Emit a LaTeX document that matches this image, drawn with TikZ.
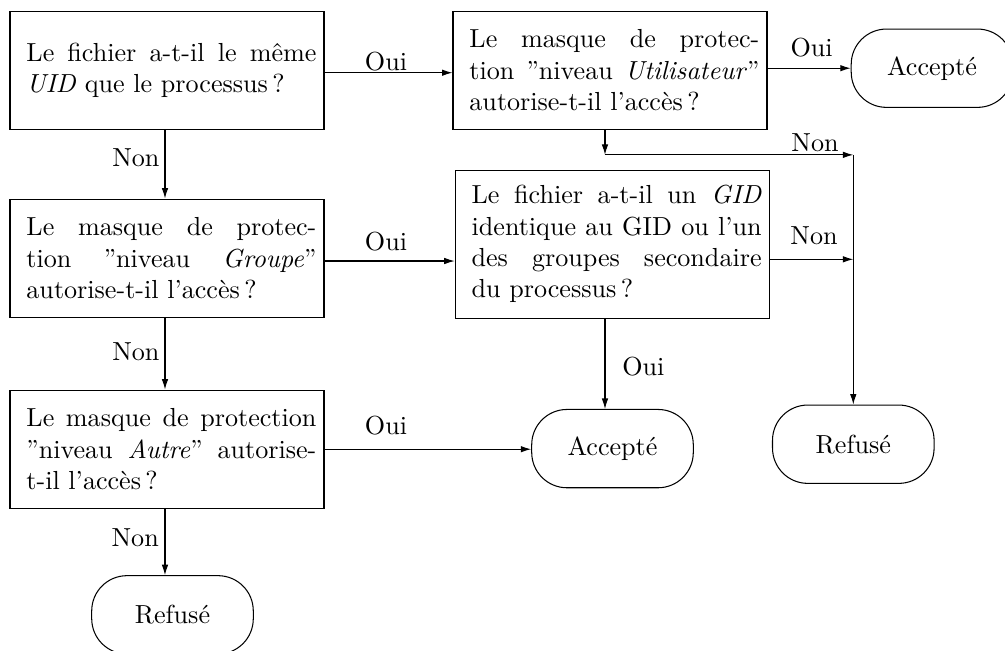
\documentclass[tikz,border=0pt]{standalone}
\usetikzlibrary{arrows.meta}
\begin{document}
\begin{tikzpicture}[x=0.3831pt, y=-0.3831pt,
  qbox/.style={draw, minimum width=120.3pt, minimum height=45.3pt, inner xsep=0pt, inner ysep=3pt},
  term/.style={draw, rounded corners=13.5pt, minimum width=61.9pt, minimum height=30pt, inner sep=0pt},
  arr/.style={-{Latex[length=4pt,width=2.5pt]}},
  lbl/.style={inner sep=0pt}]
\useasboundingbox (0,0) rectangle (1005,650);
\newcommand{\qtext}[1]{\hspace{3.4pt}\parbox[c]{111.1pt}{#1}}
% question boxes
\node[qbox] (A) at (167,70.2) {\qtext{Le fichier a-t-il le même\linebreak \textit{UID} que le processus\,?}};
\node[qbox] (B) at (610,70.2) {\qtext{Le masque de protec-\linebreak tion ”niveau \textit{Utilisateur}”\linebreak autorise-t-il l’accès\,?}};
\node[qbox] (C) at (167,258.2) {\qtext{Le masque de protec-\linebreak tion ”niveau \textit{Groupe}”\linebreak autorise-t-il l’accès\,?}};
\node[qbox, minimum height=56.5pt] (D) at (612.2,244.3) {\qtext{Le fichier a-t-il un \textit{GID}\linebreak identique au GID ou l’un\linebreak des groupes secondaire\linebreak du processus\,?}};
\node[qbox] (E) at (167,449.2) {\qtext{Le masque de protection\linebreak ”niveau \textit{Autre}” autorise-\linebreak t-il l’accès\,?}};
% terminals
\node[term] (Acc1) at (932,68.2) {Accepté};
\node[term] (Acc2) at (612.5,448.6) {Accepté};
\node[term] (Ref1) at (853.3,444.2) {Refusé};
\node[term] (Ref2) at (172.5,614.8) {Refusé};
% connectors
\draw[arr] ([yshift=-0.96pt]A.east) -- ([yshift=-0.96pt]B.west);
\draw[arr] (B.east |- Acc1.west) -- (Acc1.west);
\draw[arr] ([xshift=-0.77pt]A.south) -- ([xshift=-0.77pt]C.north);
\draw[arr] ([xshift=-0.77pt]C.south) -- ([xshift=-0.77pt]E.north);
\draw[arr] ([xshift=-0.77pt]E.south) coordinate (e1) -- (e1 |- Ref2.north);
\draw[arr] ([xshift=-1.92pt]B.south) coordinate (b1) -- ++(0,25) coordinate (b2);
\draw[arr] (b2) -- (b2 -| Ref1.north) coordinate (j);
\draw[arr] (j) -- (Ref1.north);
\draw[arr] ([yshift=-1.07pt]C.east) coordinate (c1) -- (c1 -| D.west);
\draw[arr] ([yshift=-5.75pt]D.east) coordinate (d1) -- (d1 -| Ref1.north);
\draw[arr] (b1 |- D.south) -- (b1 |- Acc2.north);
\draw[arr] (E.east) -- (E.east -| Acc2.west);
% labels
\node[lbl, anchor=base] (o1) at (386,70) {Oui};
\node[lbl, anchor=base] (o2) at (811.7,56) {Oui};
\node[lbl, anchor=base] (o3) at (386,250) {Oui};
\node[lbl, anchor=base] (o4) at (643.3,375) {Oui};
\node[lbl, anchor=base] (o5) at (386,434) {Oui};
\node[lbl, anchor=base east] (n1) at (160,166.7) {Non};
\node[lbl, anchor=base east] (n2) at (160,360) {Non};
\node[lbl, anchor=base east] (n3) at (159.3,546.7) {Non};
\node[lbl, anchor=base] (n4) at (815,151.7) {Non};
\node[lbl, anchor=base] (n5) at (814,244.3) {Non};
\end{tikzpicture}
\end{document}
